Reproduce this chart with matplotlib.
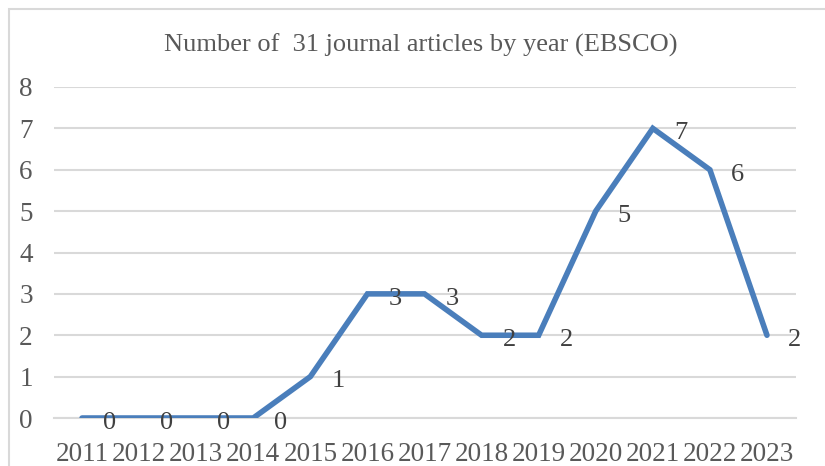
import matplotlib
matplotlib.use("Agg")
import matplotlib.pyplot as plt
from matplotlib.patches import Rectangle

years = ["2011", "2012", "2013", "2014", "2015", "2016", "2017",
         "2018", "2019", "2020", "2021", "2022", "2023"]
articles = [0, 0, 0, 0, 1, 3, 3, 2, 2, 5, 7, 6, 2]
title = "Number of  31 journal articles by year (EBSCO)"

W, H = 825, 466
plt.rcParams["font.family"] = ["Liberation Serif", "DejaVu Serif"]
text_color = "#595959"
grid_color = "#d9d9d9"
line_color = "#4a7ebb"

fig = plt.figure(figsize=(W / 100, H / 100), dpi=100)
ax = fig.add_axes([53.5 / W, 48 / H, (795.5 - 53.5) / W, (418 - 87) / H])

x = list(range(len(years)))
ax.plot(x, articles, color=line_color, lw=4.0, solid_joinstyle="miter",
        solid_capstyle="round", zorder=3)

for xi, v in zip(x, articles):
    ax.annotate(str(v), (xi, v), xytext=(20, -3.5), textcoords="offset points",
                ha="center", va="center", fontsize=19, color="#404040", zorder=4)

ax.set_xlim(-0.5, len(years) - 0.5)
ax.set_ylim(0, 8)
ax.set_yticks(range(0, 9))
ax.set_xticks(x)
ax.set_xticklabels(years)
ax.tick_params(axis="both", length=0, labelsize=19.5, labelcolor=text_color)
ax.tick_params(axis="y", pad=15)
ax.tick_params(axis="x", pad=17)
ax.grid(axis="y", color=grid_color, lw=1.5)
ax.set_axisbelow(True)
for side in ("top", "right", "left"):
    ax.spines[side].set_visible(False)
ax.spines["bottom"].set_color(grid_color)
ax.spines["bottom"].set_linewidth(1.5)

fig.text(421 / W, 1 - 45 / H, title, ha="center", va="center",
         fontsize=19, color=text_color)

fig.patches.append(Rectangle((9 / W, -0.1), 1.0, (H - 9) / H + 0.1,
                             transform=fig.transFigure, fill=False,
                             edgecolor=grid_color, lw=1.5))

fig.savefig("out.png", dpi=100)
